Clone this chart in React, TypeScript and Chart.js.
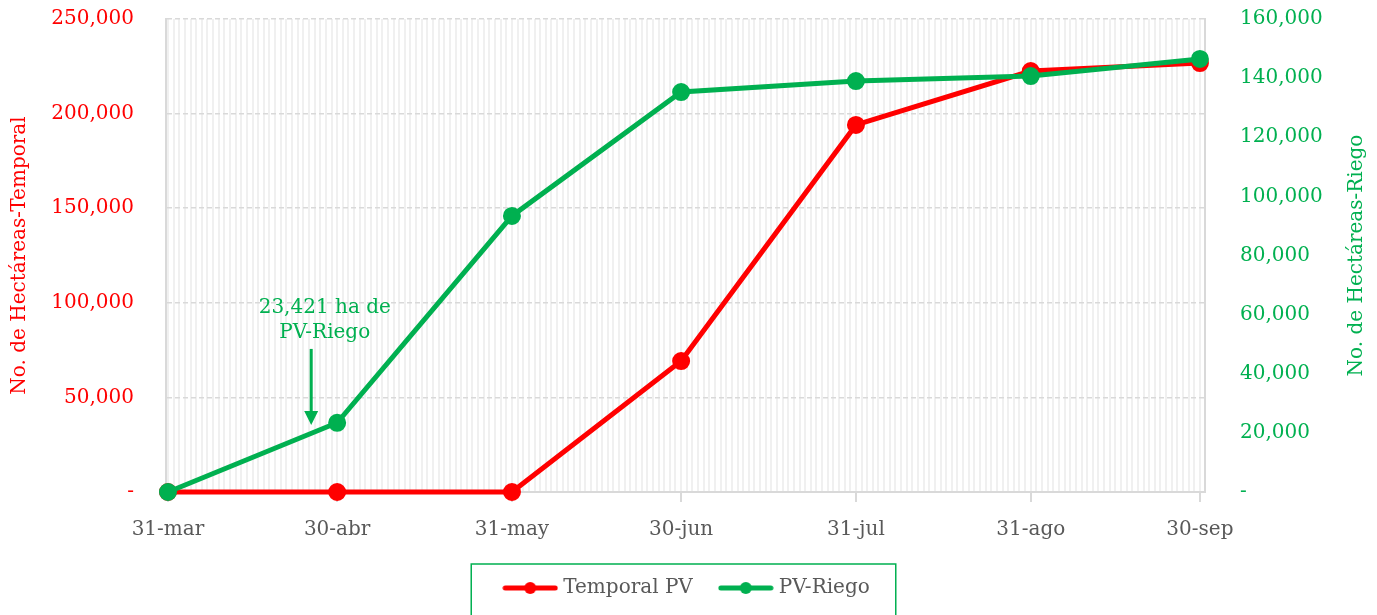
import React, { useEffect, useRef } from 'react';
import { Chart, registerables } from 'chart.js';

Chart.register(...registerables);

// ---------- data ----------
const monthLabels = ['31-mar', '30-abr', '31-may', '30-jun', '31-jul', '31-ago', '30-sep'];
const monthDays = [0, 30, 61, 91, 122, 153, 183]; // days since 31-mar
const temporalPV = [0, 0, 0, 69200, 194000, 222500, 226700];
const pvRiego = [0, 23421, 93400, 135300, 139000, 140700, 146500];
const seriesNames = ['Temporal PV', 'PV-Riego'];
const leftTitle = 'No. de Hectáreas-Temporal';
const rightTitle = 'No. de Hectáreas-Riego';
const annotationLines = ['23,421 ha de', 'PV-Riego'];
const annotationTextDay = 27.8;
const annotationTextValues = [62200, 53800];
const annotationArrowDay = 25.4;
const annotationArrowFrom = 48400;
const annotationArrowTo = 22700;

const FONT = "'DejaVu Serif', serif";
const RED = '#ff0000';
const GREEN = '#00b050';
const GRAY = '#595959';

function fmt(v: number) {
  if (v === 0) return '-';
  return Math.round(v).toLocaleString('en-US');
}

function markerCanvas(color: string) {
  const c = document.createElement('canvas');
  c.width = 56;
  c.height = 16;
  const ctx = c.getContext('2d')!;
  ctx.strokeStyle = color;
  ctx.lineWidth = 5;
  ctx.lineCap = 'round';
  ctx.beginPath();
  ctx.moveTo(3, 8);
  ctx.lineTo(53, 8);
  ctx.stroke();
  ctx.fillStyle = color;
  ctx.beginPath();
  ctx.arc(28, 8, 6, 0, Math.PI * 2);
  ctx.fill();
  return c;
}

const decor = {
  id: 'decor',
  afterDraw(chart: any) {
    const { ctx, chartArea, scales } = chart;
    // right axis title (reads bottom to top)
    ctx.save();
    ctx.font = `20px ${FONT}`;
    ctx.fillStyle = GREEN;
    ctx.textAlign = 'center';
    ctx.textBaseline = 'middle';
    ctx.translate(chart.width - 20, (chartArea.top + chartArea.bottom) / 2);
    ctx.rotate(-Math.PI / 2);
    ctx.fillText(rightTitle, 0, 0);
    ctx.restore();

    // annotation
    ctx.save();
    ctx.font = `20px ${FONT}`;
    ctx.fillStyle = GREEN;
    ctx.textAlign = 'center';
    ctx.textBaseline = 'middle';
    const tx = scales.x.getPixelForValue(annotationTextDay);
    annotationLines.forEach((t, i) => {
      ctx.fillText(t, tx, scales.y1.getPixelForValue(annotationTextValues[i]));
    });
    const ax = scales.x.getPixelForValue(annotationArrowDay);
    const ay1 = scales.y1.getPixelForValue(annotationArrowFrom);
    const ay2 = scales.y1.getPixelForValue(annotationArrowTo);
    ctx.strokeStyle = GREEN;
    ctx.lineWidth = 3;
    ctx.beginPath();
    ctx.moveTo(ax, ay1);
    ctx.lineTo(ax, ay2 - 12);
    ctx.stroke();
    ctx.beginPath();
    ctx.moveTo(ax - 7, ay2 - 14);
    ctx.lineTo(ax + 7, ay2 - 14);
    ctx.lineTo(ax, ay2);
    ctx.closePath();
    ctx.fill();
    ctx.restore();

    // legend frame
    const lg = chart.legend;
    if (lg && lg.legendHitBoxes && lg.legendHitBoxes.length) {
      const hb = lg.legendHitBoxes;
      const l = Math.min(...hb.map((h: any) => h.left)) - 36;
      const r = Math.max(...hb.map((h: any) => h.left + h.width)) + 26;
      const cy = hb[0].top + hb[0].height / 2;
      ctx.save();
      ctx.strokeStyle = GREEN;
      ctx.lineWidth = 1.5;
      ctx.strokeRect(l, cy - 24, r - l, 80);
      ctx.restore();
    }
  },
};

export default function App() {
  const ref = useRef<HTMLCanvasElement>(null);
  useEffect(() => {
    document.body.style.margin = '0';
    const markers = [markerCanvas(RED), markerCanvas(GREEN)];
    const chart = new Chart(ref.current!, {
      type: 'line',
      data: {
        datasets: [
          {
            label: seriesNames[0],
            data: monthDays.map((d, i) => ({ x: d, y: temporalPV[i] })),
            borderColor: RED,
            backgroundColor: RED,
            borderWidth: 5,
            pointRadius: 6.5,
            pointBackgroundColor: RED,
            pointBorderColor: RED,
            yAxisID: 'y',
            xAxisID: 'x',
            order: 1,
            clip: false,
          },
          {
            label: seriesNames[1],
            data: monthDays.map((d, i) => ({ x: d, y: pvRiego[i] })),
            borderColor: GREEN,
            backgroundColor: GREEN,
            borderWidth: 5,
            pointRadius: 6.5,
            pointBackgroundColor: GREEN,
            pointBorderColor: GREEN,
            yAxisID: 'y1',
            xAxisID: 'x',
            order: 0,
            clip: false,
          },
        ],
      },
      options: {
        responsive: false,
        animation: false,
        layout: { padding: { top: 19, left: 0, right: 0, bottom: 7 } },
        plugins: {
          tooltip: { enabled: false },
          legend: {
            position: 'bottom',
            labels: {
              font: { family: FONT, size: 20 },
              color: GRAY,
              usePointStyle: true,
              pointStyleWidth: 46,
              padding: 30,
              sort: (a: any, b: any) => a.datasetIndex - b.datasetIndex,
              generateLabels: (c: any) =>
                (Chart.defaults.plugins.legend.labels as any)
                  .generateLabels(c)
                  .map((l: any) => ({ ...l, pointStyle: markers[l.datasetIndex] })),
            },
          },
        },
        scales: {
          x: {
            type: 'linear',
            position: 'bottom',
            min: -0.35,
            max: 183.9,
            afterBuildTicks: (s: any) => {
              s.ticks = monthDays.map((v) => ({ value: v }));
            },
            afterFit: (s: any) => {
              s.height = 56;
            },
            ticks: {
              autoSkip: false,
              maxRotation: 0,
              padding: 16,
              color: GRAY,
              font: { family: FONT, size: 20 },
              callback: (v: any) => monthLabels[monthDays.indexOf(v)] ?? '',
            },
            grid: { color: '#d9d9d9', lineWidth: 2, tickLength: 10, tickColor: '#d9d9d9' },
            border: { color: '#d9d9d9', width: 2 },
          },
          x2: {
            type: 'linear',
            position: 'bottom',
            min: -0.35,
            max: 183.9,
            z: -2,
            afterBuildTicks: (s: any) => {
              const t = [];
              for (let d = 0; d <= 183; d++) t.push({ value: d });
              s.ticks = t;
            },
            afterFit: (s: any) => {
              s.height = 0;
              s.paddingLeft = 0;
              s.paddingRight = 0;
            },
            ticks: { display: false },
            grid: { color: '#f0f0f0', lineWidth: 2, drawTicks: false },
            border: { display: false },
          },
          y: {
            type: 'linear',
            position: 'left',
            min: 0,
            max: 250000,
            z: -1,
            afterFit: (s: any) => {
              s.width = 166;
              s.paddingTop = 0;
              s.paddingBottom = 0;
            },
            ticks: {
              stepSize: 50000,
              padding: 32,
              color: RED,
              font: { family: FONT, size: 20 },
              callback: (v: any) => fmt(Number(v)),
            },
            title: {
              display: true,
              text: leftTitle,
              color: RED,
              font: { family: FONT, size: 20 },
              padding: { top: 8, bottom: 0 },
            },
            grid: { color: '#d9d9d9', lineWidth: 1.5, drawTicks: false },
            border: { color: '#d9d9d9', width: 2, dash: [5, 3] },
          },
          y1: {
            type: 'linear',
            position: 'right',
            min: 0,
            max: 160000,
            afterFit: (s: any) => {
              s.width = 172;
              s.paddingTop = 0;
              s.paddingBottom = 0;
            },
            ticks: {
              stepSize: 20000,
              padding: 35,
              color: GREEN,
              font: { family: FONT, size: 20 },
              callback: (v: any) => fmt(Number(v)),
            },
            grid: { drawOnChartArea: false, drawTicks: false },
            border: { color: '#d9d9d9', width: 2 },
          },
        },
      },
      plugins: [decor],
    } as any);
    return () => chart.destroy();
  }, []);
  return (
    <div style={{ width: 1377, height: 615 }}>
      <canvas ref={ref} width={1377} height={615} />
    </div>
  );
}
